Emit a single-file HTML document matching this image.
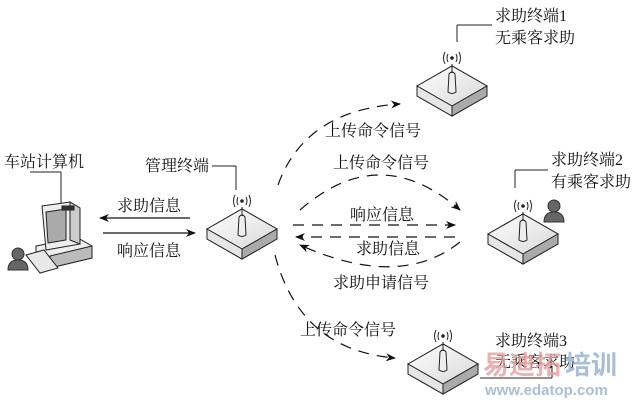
<!DOCTYPE html>
<html><head><meta charset="utf-8"><style>
html,body{margin:0;padding:0;background:#fff;}
svg{display:block}
text{font-family:"Liberation Serif","Noto Serif CJK SC","Noto Sans CJK SC",serif;font-size:16px;fill:#111}
</style></head><body>
<svg width="639" height="400" viewBox="0 0 639 400" xmlns="http://www.w3.org/2000/svg">
<defs>
<marker id="ah" markerWidth="10" markerHeight="8" refX="9" refY="4" orient="auto" markerUnits="userSpaceOnUse">
<path d="M0,0 L10,4 L0,8 L3,4 Z" fill="#111"/></marker>
<linearGradient id="top" x1="0" y1="0" x2="1" y2="1"><stop offset="0" stop-color="#fff"/><stop offset="1" stop-color="#d8d8d8"/></linearGradient>
<g id="dev">
<path d="M-35,0 L0,-20 L35,0 L35,10 L0,30 L-35,10 Z" fill="#ccc" stroke="#222" stroke-width="1"/>
<path d="M-35,0 L0,-20 L35,0 L0,20 Z" fill="url(#top)" stroke="#222" stroke-width="1"/>
<path d="M-35,0 L0,20 L0,30 L-35,10 Z" fill="#e6e6e6" stroke="#222" stroke-width="1"/>
<path d="M0,20 L35,0 L35,10 L0,30 Z" fill="#aaa" stroke="#222" stroke-width="1"/>
<path d="M-4,6 L-3,-12 Q0,-16 3,-12 L4,6 Q0,9 -4,6 Z" fill="#eee" stroke="#222" stroke-width="1"/>
<line x1="0" y1="-13" x2="0" y2="-22" stroke="#222"/>
<circle cx="0" cy="-28" r="1.8" fill="#222"/>
<path d="M-4,-32 Q-6,-28 -4,-24 M4,-32 Q6,-28 4,-24 M-7,-34 Q-10,-28 -7,-22 M7,-34 Q10,-28 7,-22" fill="none" stroke="#222" stroke-width="1"/>
</g>
<g id="person">
<circle cx="0" cy="-8" r="6" fill="#666" stroke="#333"/>
<path d="M-10,8 Q-10,-2 0,-2 Q10,-2 10,8 Z" fill="#666" stroke="#333"/>
</g>
</defs>

<!-- computer -->
<g stroke="#222" stroke-width="1">
<line x1="30" y1="172" x2="61" y2="172"/>
<line x1="61" y1="172" x2="61" y2="203"/>
<path d="M36,246 L78,238 L92,246 L92,258 L50,268 L36,258 Z" fill="#eee"/>
<path d="M50,256 L92,246 L92,258 L50,268 Z" fill="#bbb"/>
<path d="M42,206 L70,202 L80,208 L80,244 L46,250 Z" fill="#eee"/>
<path d="M46,212 L66,209 L66,240 L48,243 Z" fill="#aaa"/>
<path d="M70,202 L80,208 L80,244 L70,240 Z" fill="#ccc"/>
<rect x="62" y="206" width="12" height="4" fill="#333"/>
<path d="M26,255 L44,250 L58,268 L40,273 Z" fill="#e8e8e8"/>
</g>
<g transform="translate(18,262)"><use href="#person"/></g>
<text x="4" y="167">车站计算机</text>

<!-- management terminal -->
<line x1="212" y1="166" x2="236" y2="166" stroke="#222"/>
<line x1="236" y1="166" x2="236" y2="190" stroke="#222"/>
<text x="145" y="171">管理终端</text>
<g transform="translate(242,229)"><use href="#dev"/></g>

<line x1="190" y1="218" x2="100" y2="218" stroke="#111" stroke-width="1.3" marker-end="url(#ah)"/>
<line x1="103" y1="233" x2="195" y2="233" stroke="#111" stroke-width="1.3" marker-end="url(#ah)"/>
<text x="117" y="211">求助信息</text>
<text x="117" y="256">响应信息</text>

<!-- terminal 1 -->
<line x1="457" y1="25" x2="492" y2="25" stroke="#222"/>
<line x1="457" y1="25" x2="457" y2="42" stroke="#222"/>
<text x="495" y="21">求助终端1</text>
<text x="495" y="43">无乘客求助</text>
<g transform="translate(452,86)"><use href="#dev"/></g>

<!-- terminal 2 -->
<line x1="515" y1="170" x2="548" y2="170" stroke="#222"/>
<line x1="515" y1="170" x2="515" y2="188" stroke="#222"/>
<text x="551" y="165">求助终端2</text>
<text x="551" y="187">有乘客求助</text>
<g transform="translate(523,234)"><use href="#dev"/></g>
<g transform="translate(554,214)"><use href="#person"/></g>

<!-- terminal 3 -->
<line x1="480" y1="378" x2="552" y2="378" stroke="#222"/>
<line x1="552" y1="366" x2="552" y2="378" stroke="#222"/>
<text x="495" y="346">求助终端3</text>
<text x="495" y="367">无乘客求助</text>
<g transform="translate(443,364)"><use href="#dev"/></g>

<g fill="none" stroke="#111" stroke-width="1.2" stroke-dasharray="11,8">
<path d="M278,185 Q305,110 400,104" marker-end="url(#ah)"/>
<path d="M275,255 Q300,350 395,358" marker-end="url(#ah)"/>
<path d="M300,210 Q380,140 460,210" marker-end="url(#ah)"/>
<path d="M460,242 Q400,290 300,245" marker-end="url(#ah)"/>
<line x1="293" y1="225" x2="455" y2="225" marker-end="url(#ah)"/>
<line x1="455" y1="237" x2="296" y2="237" marker-end="url(#ah)"/>
</g>
<text x="325" y="136">上传命令信号</text>
<text x="333" y="168">上传命令信号</text>
<text x="350" y="220">响应信息</text>
<text x="356" y="254">求助信息</text>
<text x="333" y="288">求助申请信号</text>
<text x="300" y="335">上传命令信号</text>

<text x="483" y="374" style="font-size:26px;font-weight:bold;fill:#e8a0a0;opacity:.8;font-family:'Liberation Sans','Noto Sans CJK SC',sans-serif">易迪拓</text>
<text x="565" y="374" style="font-size:26px;font-weight:bold;fill:#a9bfd6;font-family:'Liberation Sans','Noto Sans CJK SC',sans-serif">培训</text>
<text x="485" y="395" style="font-size:15px;font-weight:bold;fill:#a9bfd6;font-family:'Liberation Sans',sans-serif">www.edatop.com</text>
</svg>
</body></html>
